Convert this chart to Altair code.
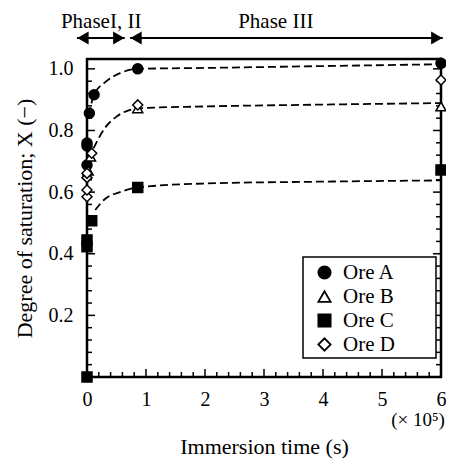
import altair as alt
import pandas as pd

# ---- measured data (time in 1e5 s, degree of saturation) ----
ore_a_t = [0.0, 0.0, 0.0, 0.04, 0.12, 0.86, 6.0]
ore_a_x = [0.688, 0.750, 0.759, 0.856, 0.916, 1.000, 1.018]
ore_b_t = [0.02, 0.06, 0.86, 6.0]
ore_b_x = [0.670, 0.715, 0.872, 0.878]
ore_c_t = [0.0, 0.0, 0.0, 0.08, 0.86, 6.0]
ore_c_x = [0.0, 0.423, 0.445, 0.507, 0.615, 0.672]
ore_d_t = [0.0, 0.0, 0.0, 0.0, 0.08, 0.86, 6.0]
ore_d_x = [0.585, 0.607, 0.647, 0.661, 0.726, 0.883, 0.964]

# ---- dashed fitted curves ----
fit_a_t = [0.03, 0.12, 0.33, 0.56, 0.86, 2.0, 4.0, 6.0]
fit_a_x = [0.850, 0.916, 0.960, 0.986, 1.000, 1.003, 1.009, 1.015]
fit_bd_t = [0.11, 0.30, 0.50, 0.73, 0.86, 2.0, 4.0, 6.0]
fit_bd_x = [0.742, 0.807, 0.845, 0.867, 0.872, 0.878, 0.884, 0.889]
fit_c_t = [0.14, 0.30, 0.56, 0.86, 2.0, 4.0, 6.0]
fit_c_x = [0.542, 0.577, 0.600, 0.615, 0.628, 0.634, 0.638]

ores = ["Ore A", "Ore B", "Ore C", "Ore D"]
shapes = ["circle", "triangle-up", "square", "diamond"]
fills = ["black", "white", "black", "white"]
strokes = ["black", "black", "black", "black"]

x_major = [0, 1, 2, 3, 4, 5, 6]
x_minor = [round(i * 0.2, 2) for i in range(31) if i % 5 != 0]
y_major = [0.0, 0.2, 0.4, 0.6, 0.8, 1.0]
y_minor = [round(i * 0.04, 2) for i in range(26) if i % 5 != 0]
y_labels = [0.2, 0.4, 0.6, 0.8, 1.0]

phase_labels = ["PhaseI, II", "Phase III"]
phase_label_t = [0.24, 3.2]
phase_start = [-0.17, 0.73]
phase_end = [0.64, 6.03]

W, H = 354, 318
FONT = "Liberation Serif"

rows = []
for ore, ts, xs_ in [("Ore A", ore_a_t, ore_a_x), ("Ore B", ore_b_t, ore_b_x),
                     ("Ore C", ore_c_t, ore_c_x), ("Ore D", ore_d_t, ore_d_x)]:
    for t, x in zip(ts, xs_):
        rows.append({"ore": ore, "t": t, "x": x})
pts = pd.DataFrame(rows)

frows = []
for c, ts, xs_ in [("A", fit_a_t, fit_a_x), ("BD", fit_bd_t, fit_bd_x), ("C", fit_c_t, fit_c_x)]:
    for t, x in zip(ts, xs_):
        frows.append({"curve": c, "t": t, "x": x})
fits = pd.DataFrame(frows)

xs = alt.Scale(domain=[0, 6], nice=False, zero=False)
ys = alt.Scale(domain=[0, 1.032], nice=False, zero=False)

x_axis = alt.Axis(values=x_major, format="d", ticks=False, domain=False, grid=False,
                  labelFlush=False, labelFont=FONT, labelFontSize=20, labelColor="black",
                  labelPadding=12, title="Immersion time (s)",
                  titleFont=FONT, titleFontSize=22, titleFontWeight="normal",
                  titleColor="black", titlePadding=27)
y_axis = alt.Axis(values=y_labels, format=".1f", ticks=False, domain=False,
                  grid=False, labelFlush=False, labelFont=FONT, labelFontSize=20,
                  labelColor="black", labelPadding=14,
                  title="Degree of saturation; X (\u2212)",
                  titleFont=FONT, titleFontSize=22, titleFontWeight="normal",
                  titleColor="black", titlePadding=12)

curves = alt.Chart(fits).mark_line(
    color="black", strokeDash=[8, 4], strokeWidth=1.8, interpolate="monotone"
).encode(x=alt.X("t:Q", scale=xs, axis=x_axis),
         y=alt.Y("x:Q", scale=ys, axis=y_axis), detail="curve:N")

leg = alt.Legend(symbolStrokeColor="black", symbolStrokeWidth=1.8)
points = alt.Chart(pts).mark_point(filled=False, strokeWidth=1.5, opacity=1).encode(
    x=alt.X("t:Q", scale=xs, axis=x_axis),
    y=alt.Y("x:Q", scale=ys, axis=y_axis),
    shape=alt.Shape("ore:N", scale=alt.Scale(domain=ores, range=shapes), title=None, legend=leg),
    fill=alt.Fill("ore:N", scale=alt.Scale(domain=ores, range=fills), title=None, legend=leg),
    stroke=alt.Stroke("ore:N", scale=alt.Scale(domain=ores, range=strokes), title=None, legend=leg),
    size=alt.value(100),
)

# legend frame
legend_box = alt.Chart(pd.DataFrame({"k": [0]})).mark_rect(
    fill="white", stroke="black", strokeWidth=1.5
).encode(x=alt.value(216), x2=alt.value(349), y=alt.value(198), y2=alt.value(299))

# inward ticks
xt_major = pd.DataFrame({"t": x_major})
xt_minor = pd.DataFrame({"t": x_minor})
yt_major = pd.DataFrame({"x": y_major})
yt_minor = pd.DataFrame({"x": y_minor})

def xticks(df, ln):
    return alt.Chart(df).mark_rule(color="black", strokeWidth=1.5).encode(
        x=alt.X("t:Q", scale=xs, axis=x_axis), y=alt.value(H), y2=alt.value(H - ln))

def yticks(df, ln, right=False):
    if right:
        return alt.Chart(df).mark_rule(color="black", strokeWidth=1.5).encode(
            y=alt.Y("x:Q", scale=ys, axis=y_axis), x=alt.value(W - ln), x2=alt.value(W))
    return alt.Chart(df).mark_rule(color="black", strokeWidth=1.5).encode(
        y=alt.Y("x:Q", scale=ys, axis=y_axis), x=alt.value(0), x2=alt.value(ln))

ticks = [xticks(xt_major, 8), xticks(xt_minor, 5),
         yticks(yt_major, 8), yticks(yt_minor, 5),
         yticks(yt_major, 8, True), yticks(yt_minor, 5, True)]

# phase annotations
ph = pd.DataFrame({"label": phase_labels, "lt": phase_label_t,
                   "s": phase_start, "e": phase_end})
ph_text = alt.Chart(ph).mark_text(font=FONT, fontSize=21, color="black",
                                  baseline="alphabetic").encode(
    x=alt.X("lt:Q", scale=xs), y=alt.value(-31), text="label:N")
ph_line = alt.Chart(ph).mark_rule(color="black", strokeWidth=2).encode(
    x=alt.X("s:Q", scale=xs), x2="e:Q", y=alt.value(-21))
ph_left = alt.Chart(ph).mark_point(shape="triangle-left", filled=True, color="black",
                                   size=170, opacity=1, xOffset=6).encode(
    x=alt.X("s:Q", scale=xs), y=alt.value(-21))
ph_right = alt.Chart(ph).mark_point(shape="triangle-right", filled=True, color="black",
                                    size=170, opacity=1, xOffset=-6).encode(
    x=alt.X("e:Q", scale=xs), y=alt.value(-21))

mult = alt.Chart(pd.DataFrame({"txt": ["(\u00d7 10\u2075)"]})).mark_text(
    font=FONT, fontSize=19, color="black", baseline="middle", align="center").encode(
    x=alt.value(331), y=alt.value(361), text="txt:N")

chart = alt.layer(curves, *ticks, legend_box, points, ph_line, ph_left, ph_right,
                  ph_text, mult).properties(
    width=W, height=H,
    autosize=alt.AutoSizeParams(type="none"),
    padding={"left": 79, "top": 51, "right": 5, "bottom": 82},
).configure(font=FONT).configure_axis(
    labelFont=FONT, titleFont=FONT
).configure_view(
    stroke="black", strokeWidth=2.5
).configure_legend(
    orient="none", legendX=219, legendY=195, padding=8,
    labelFont=FONT, labelFontSize=21, labelColor="black",
    symbolSize=150, symbolStrokeWidth=1.8, symbolStrokeColor="black", rowPadding=2,
    labelOffset=8, symbolOpacity=1,
)

chart.save("out.html", embed_options={"renderer": "svg", "actions": False})
